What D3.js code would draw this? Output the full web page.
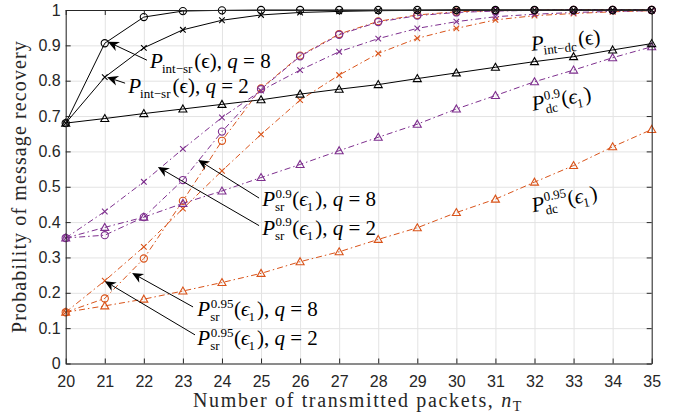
<!DOCTYPE html>
<html><head><meta charset="utf-8">
<script src="https://cdn.jsdelivr.net/npm/d3@7"></script>
<style>body{margin:0;background:#fff}svg{display:block}</style>
</head><body><svg id="c" width="673" height="420"></svg>
<script>
// ---------- data ----------
const nT = [20,21,22,23,24,25,26,27,28,29,30,31,32,33,34,35];
const yTickValues = [0,0.1,0.2,0.3,0.4,0.5,0.6,0.7,0.8,0.9,1];
const yTickLabels = ["0","0.1","0.2","0.3","0.4","0.5","0.6","0.7","0.8","0.9","1"];
const intSrQ8 = [0.68,0.906,0.98,0.997,0.999,1,1,1,1,1,1,1,1,1,1,1];
const intSrQ2 = [0.68,0.81,0.893,0.944,0.971,0.986,0.993,0.996,0.998,0.999,1,1,1,1,1,1];
const intDc   = [0.68,0.693,0.707,0.72,0.733,0.746,0.762,0.776,0.789,0.806,0.822,0.838,0.854,0.868,0.887,0.905];
const sr09Q8  = [0.355,0.363,0.414,0.519,0.656,0.776,0.869,0.93,0.966,0.984,0.993,0.997,0.999,1,1,1];
const sr09Q2  = [0.355,0.43,0.514,0.607,0.696,0.772,0.83,0.882,0.919,0.948,0.967,0.981,0.988,0.993,0.996,0.998];
const dc09    = [0.355,0.385,0.414,0.453,0.488,0.526,0.563,0.602,0.64,0.677,0.72,0.758,0.797,0.83,0.865,0.896];
const sr095Q8 = [0.145,0.184,0.297,0.46,0.63,0.778,0.871,0.932,0.968,0.986,0.995,0.998,0.999,1,1,1];
const sr095Q2 = [0.145,0.234,0.33,0.438,0.545,0.648,0.745,0.816,0.877,0.92,0.948,0.972,0.984,0.99,0.995,0.998];
const dc095   = [0.145,0.163,0.182,0.205,0.229,0.255,0.288,0.316,0.351,0.384,0.427,0.465,0.513,0.56,0.613,0.662];

const ORANGE = "#D95319", PURPLE = "#7E2F8E", BLACK = "#000000";
const series = [
  {v: dc095,   c: ORANGE, m: "tri",  dash: true},
  {v: sr095Q2, c: ORANGE, m: "x",    dash: true},
  {v: sr095Q8, c: ORANGE, m: "circ", dash: true},
  {v: dc09,    c: PURPLE, m: "tri",  dash: true},
  {v: sr09Q2,  c: PURPLE, m: "x",    dash: true},
  {v: sr09Q8,  c: PURPLE, m: "circ", dash: true},
  {v: intDc,   c: BLACK,  m: "tri",  dash: false},
  {v: intSrQ2, c: BLACK,  m: "x",    dash: false},
  {v: intSrQ8, c: BLACK,  m: "circ", dash: false}
];

// annotations (data coordinates)
const arrows = [
  {tip:[21.08,0.91],  tail:[22.08,0.858]},
  {tip:[21.06,0.81],  tail:[21.52,0.793]},
  {tip:[23.39,0.576], tail:[24.95,0.468]},
  {tip:[22.36,0.556], tail:[24.95,0.39]},
  {tip:[21.7,0.256],  tail:[23.26,0.16]},
  {tip:[21.0,0.233],  tail:[23.31,0.081]}
];
const NB = "\u00A0";
const labels = [
  {at:[22.16,0.836], rot:0, parts:[{t:"P",i:1},{sub:"int−sr"},{t:"(ϵ),"+NB},{t:"q",i:1},{t:NB+"="+NB+"8"}]},
  {at:[21.6,0.765],  rot:0, parts:[{t:"P",i:1},{sub:"int−sr"},{t:"(ϵ),"+NB},{t:"q",i:1},{t:NB+"="+NB+"2"}]},
  {at:[25.03,0.445], rot:0, parts:[{t:"P",i:1},{sup:"0.9",sub:"sr"},{t:"("},{t:"ϵ",i:1},{sub:"1"},{t:"),"+NB},{t:"q",i:1},{t:NB+"="+NB+"8"}]},
  {at:[25.03,0.364], rot:0, parts:[{t:"P",i:1},{sup:"0.9",sub:"sr"},{t:"("},{t:"ϵ",i:1},{sub:"1"},{t:"),"+NB},{t:"q",i:1},{t:NB+"="+NB+"2"}]},
  {at:[23.37,0.134], rot:0, parts:[{t:"P",i:1},{sup:"0.95",sub:"sr"},{t:"("},{t:"ϵ",i:1},{sub:"1"},{t:"),"+NB},{t:"q",i:1},{t:NB+"="+NB+"8"}]},
  {at:[23.37,0.052], rot:0, parts:[{t:"P",i:1},{sup:"0.95",sub:"sr"},{t:"("},{t:"ϵ",i:1},{sub:"1"},{t:"),"+NB},{t:"q",i:1},{t:NB+"="+NB+"2"}]},
  {at:[31.93,0.885], rot:-6, parts:[{t:"P",i:1},{sub:"int−dc"},{t:"(ϵ)"}]},
  {at:[31.96,0.715], rot:-10, parts:[{t:"P",i:1},{sup:"0.9",sub:"dc"},{t:"("},{t:"ϵ",i:1},{sub:"1"},{t:")"}]},
  {at:[31.96,0.428], rot:-11, parts:[{t:"P",i:1},{sup:"0.95",sub:"dc"},{t:"("},{t:"ϵ",i:1},{sub:"1"},{t:")"}]}
];

// ---------- layout ----------
const L = 65.7, R = 651.7, T = 10, B = 363.5;
const W = R - L, H = B - T;
const svg = d3.select("#c");
const x = d3.scaleLinear().domain([20,35]).range([L,R]);
const y = d3.scaleLinear().domain([0,1]).range([B,T]);
const AX = "#262626";
const SERIF = "'Liberation Serif','DejaVu Serif',serif";
const SANS = "'Liberation Sans',Arial,sans-serif";

// grid
svg.append("g").attr("transform",`translate(0,${B})`)
  .call(d3.axisBottom(x).tickValues(nT).tickSize(-H).tickFormat(""))
  .call(g=>{g.select(".domain").remove(); g.selectAll("line").attr("stroke","#e3e3e3");});
svg.append("g").attr("transform",`translate(${L},0)`)
  .call(d3.axisLeft(y).tickValues(yTickValues).tickSize(-W).tickFormat(""))
  .call(g=>{g.select(".domain").remove(); g.selectAll("line").attr("stroke","#e3e3e3");});

// series
const line = d3.line().x((d,i)=>x(nT[i])).y(d=>y(d));
const plot = svg.append("g");
series.forEach(s=>{
  plot.append("path").datum(s.v).attr("d",line).attr("fill","none")
    .attr("stroke",s.c).attr("stroke-width",1)
    .attr("stroke-dasharray", s.dash ? "6,3,1.5,3" : null);
  const mg = plot.append("g").attr("stroke",s.c).attr("fill","none").attr("stroke-width",1.1);
  s.v.forEach((v,i)=>{
    const px = x(nT[i]), py = y(v);
    if (s.m==="circ") mg.append("circle").attr("cx",px).attr("cy",py).attr("r",3.6);
    else if (s.m==="x") mg.append("path").attr("d",`M${px-2.8},${py-2.8}L${px+2.8},${py+2.8}M${px-2.8},${py+2.8}L${px+2.8},${py-2.8}`);
    else mg.append("path").attr("d",`M${px},${py-4}L${px+4},${py+3}L${px-4},${py+3}Z`);
  });
});

// axes box with inward ticks
function styleAxis(g){ g.selectAll("path,line").attr("stroke",AX); g.selectAll("text").attr("fill",AX).attr("font-family",SANS).attr("font-size",16); }
svg.append("g").attr("transform",`translate(0,${B})`)
  .call(d3.axisBottom(x).tickValues(nT).tickSize(-5).tickSizeOuter(0).tickPadding(12).tickFormat(d3.format("d")))
  .call(styleAxis);
svg.append("g").attr("transform",`translate(0,${T})`)
  .call(d3.axisTop(x).tickValues(nT).tickSize(-5).tickSizeOuter(0).tickFormat(""))
  .call(styleAxis);
svg.append("g").attr("transform",`translate(${L},0)`)
  .call(d3.axisLeft(y).tickValues(yTickValues).tickSize(-5).tickSizeOuter(0).tickPadding(5).tickFormat((d,i)=>yTickLabels[i]))
  .call(styleAxis);
svg.append("g").attr("transform",`translate(${R},0)`)
  .call(d3.axisRight(y).tickValues(yTickValues).tickSize(-5).tickSizeOuter(0).tickFormat(""))
  .call(styleAxis);

// arrows
const ag = svg.append("g");
arrows.forEach(a=>{
  const tx=x(a.tip[0]), ty=y(a.tip[1]), sx=x(a.tail[0]), sy=y(a.tail[1]);
  const ang = Math.atan2(ty-sy, tx-sx);
  const hl = 11, hw = 5;
  const ux=Math.cos(ang), uy=Math.sin(ang), nx=-uy, ny=ux;
  const bx=tx-ux*hl, by=ty-uy*hl;
  const nbx=tx-ux*hl*0.7, nby=ty-uy*hl*0.7;
  ag.append("line").attr("x1",sx).attr("y1",sy).attr("x2",nbx).attr("y2",nby).attr("stroke","#000").attr("stroke-width",1);
  ag.append("path").attr("d",`M${tx},${ty}L${bx+nx*hw},${by+ny*hw}L${nbx},${nby}L${bx-nx*hw},${by-ny*hw}Z`).attr("fill","#000");
});

// math labels
function mathLabel(parent, px, py, rot, parts){
  const g = parent.append("g").attr("transform",`translate(${px},${py}) rotate(${rot})`);
  let cx = 0;
  const mk = (t, dx, dy, size, it) => {
    const el = g.append("text").attr("x",dx).attr("y",dy).attr("font-family",SERIF)
      .attr("font-size",size).attr("font-style",it?"italic":"normal").attr("fill","#000").text(t);
    return el.node().getComputedTextLength();
  };
  parts.forEach(p=>{
    if (p.t!==undefined){ cx += mk(p.t, cx, 0, 21, p.i); }
    else {
      let w = 0;
      if (p.sup) w = Math.max(w, mk(p.sup, cx+0.5, -8.5, 13, false));
      if (p.sub) w = Math.max(w, mk(p.sub, cx+(p.sup?0:-1), 5, 13, false));
      cx += w + 1;
    }
  });
}
const lg = svg.append("g");
labels.forEach(l=>mathLabel(lg, x(l.at[0]), y(l.at[1]), l.rot, l.parts));

// fit text width by letter spacing
function fitWidth(sel, target){
  const n = sel.node(); const w = n.getComputedTextLength();
  const chars = n.textContent.length;
  sel.attr("letter-spacing", (target - w) / chars);
}
// axis titles
const xt = svg.append("text").attr("x",193).attr("y",407)
  .attr("font-family",SERIF).attr("font-size",20).attr("fill",AX);
xt.append("tspan").text("Number of transmitted packets,"+NB);
xt.append("tspan").attr("font-style","italic").text("n");
xt.append("tspan").attr("font-size",14).attr("dy",4).text("T");
fitWidth(xt, 330);

const yt = svg.append("text").attr("transform",`translate(26,186.5) rotate(-90)`).attr("text-anchor","middle")
  .attr("font-family",SERIF).attr("font-size",20).attr("fill",AX).text("Probability of message recovery");
fitWidth(yt, 293);
</script>
</body></html>
